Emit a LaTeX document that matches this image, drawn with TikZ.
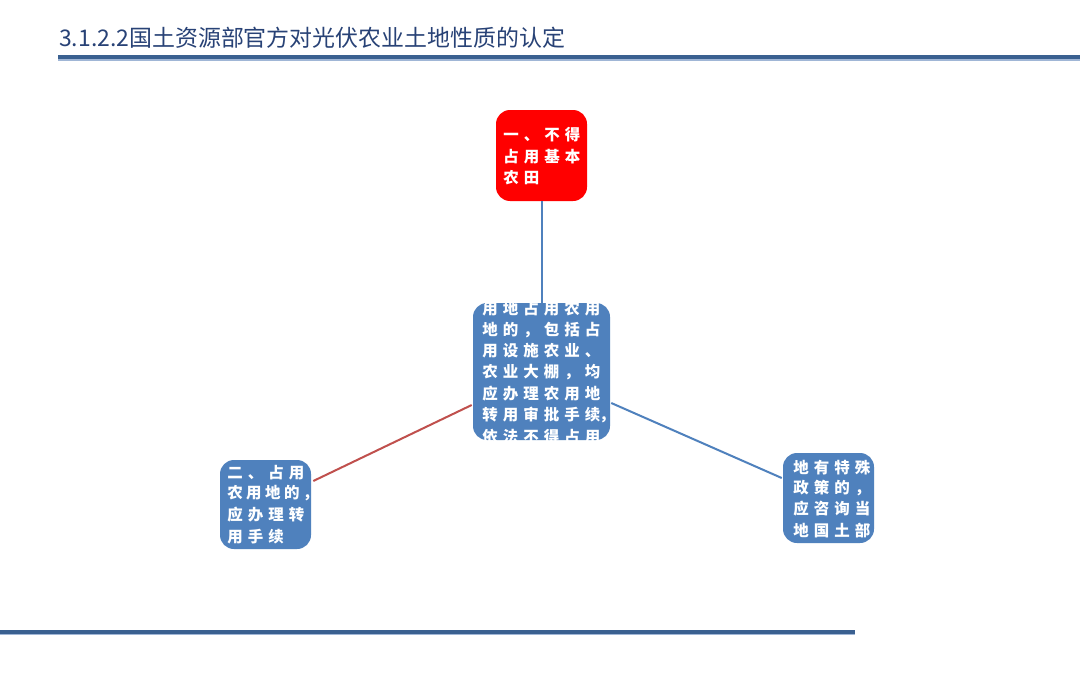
\documentclass[tikz,border=0pt]{standalone}
\usepackage{fontspec}
\setmainfont{Noto Sans CJK SC}
\usetikzlibrary{calc}
\definecolor{titleblue}{RGB}{40,66,118}
\definecolor{rulblue}{RGB}{58,96,144}
\definecolor{rullight}{RGB}{160,182,214}
\definecolor{boxblue}{RGB}{79,129,189}
\definecolor{linkred}{RGB}{192,80,77}
\makeatletter
\newcommand\chs[2][15.4pt]{\@tfor\ch:=#2\do{\makebox[#1][l]{\ch}}}
\makeatother
\begin{document}
\begin{tikzpicture}[x=0.75pt,y=-0.75pt,
  boxbase/.style={rounded corners=10.5pt, inner sep=0pt},
  redbox/.style={boxbase, fill=red},
  bluebox/.style={boxbase, fill=boxblue},
  txt/.style={anchor=west, inner sep=0pt, text=white, font=\fontsize{11.6pt}{13pt}\selectfont\bfseries},
  bluelink/.style={draw=boxblue, line width=1.5pt},
  redlink/.style={draw=linkred, line width=1.5pt}]
\useasboundingbox (0,0) rectangle (1080,685);
\fill[white] (0,0) rectangle (1080,685);
% title and rules
\node[anchor=base west, inner sep=0pt, text=titleblue, font=\fontsize{17.2pt}{20pt}\selectfont] (title) at (59,47) {3.1.2.2国土资源部官方对光伏农业土地性质的认定};
\coordinate (t1) at (58,57); \coordinate (t2) at (1080,57);
\draw[rulblue, line width=3pt] (t1) -- (t2);
\coordinate (t3) at (58,60); \coordinate (t4) at (1080,60);
\draw[rullight, line width=0.8pt] (t3) -- (t4);
\coordinate (b1) at (0,632); \coordinate (b2) at (855,632);
\draw[rulblue, line width=2.4pt] (b1) -- (b2);
\coordinate (b3) at (0,634.5); \coordinate (b4) at (855,634.5);
\draw[rullight, line width=0.8pt] (b3) -- (b4);
% boxes
\node[redbox, minimum width=68.25pt, minimum height=68.25pt] (red) at (541.5,155.5) {};
\node[bluebox, minimum width=102.75pt, minimum height=102.75pt] (mid) at (541.5,371.5) {};
\node[bluebox, minimum width=68.25pt, minimum height=66.75pt] (left) at (265.5,504.5) {};
\node[bluebox, minimum width=68.25pt, minimum height=67.5pt] (right) at (828.5,498) {};
% connectors
\draw[bluelink] (red.south) -- (mid.north);
\draw[redlink] ($(left.east)+(2,-23.5)$) -- ($(mid.west)+(-1,33.5)$);
\draw[bluelink] ($(mid.east)+(1,31.5)$) -- ($(right.west)+(-1,-20)$);
% red box text
\node[txt] (r1) at (503,135) {\chs{一、不得}};
\node[txt] (r2) at (503,157) {\chs{占用基本}};
\node[txt] (r3) at (503,178) {\chs{农田}};
% middle box text (clipped)
\begin{scope}
\clip[rounded corners=10.5pt] (473,303) rectangle (610,440);
\node[txt] (m1) at (482,308.5) {\chs{用地占用农用}};
\node[txt] (m2) at (482,330) {\chs{地的，包括占}};
\node[txt] (m3) at (482,351) {\chs{用设施农业、}};
\node[txt] (m4) at (482,372.5) {\chs{农业大棚，均}};
\node[txt] (m5) at (482,394) {\chs{应办理农用地}};
\node[txt] (m6) at (482,415) {\chs{转用审批手续}\hspace{-4.5pt}，};
\node[txt] (m7) at (482,436.5) {\chs{依法不得占用}};
\end{scope}
% left box text
\node[txt] (l1) at (227,473) {\chs{二、占用}};
\node[txt] (l2) at (227,493) {\chs[14.2pt]{农用地的，}};
\node[txt] (l3) at (227,515) {\chs{应办理转}};
\node[txt] (l4) at (227,537) {\chs{用手续}};
% right box text
\node[txt] (g1) at (793,468) {\chs{地有特殊}};
\node[txt] (g2) at (793,488) {\chs{政策的，}};
\node[txt] (g3) at (793,509) {\chs{应咨询当}};
\node[txt] (g4) at (793,531) {\chs{地国土部}};
\end{tikzpicture}
\end{document}
